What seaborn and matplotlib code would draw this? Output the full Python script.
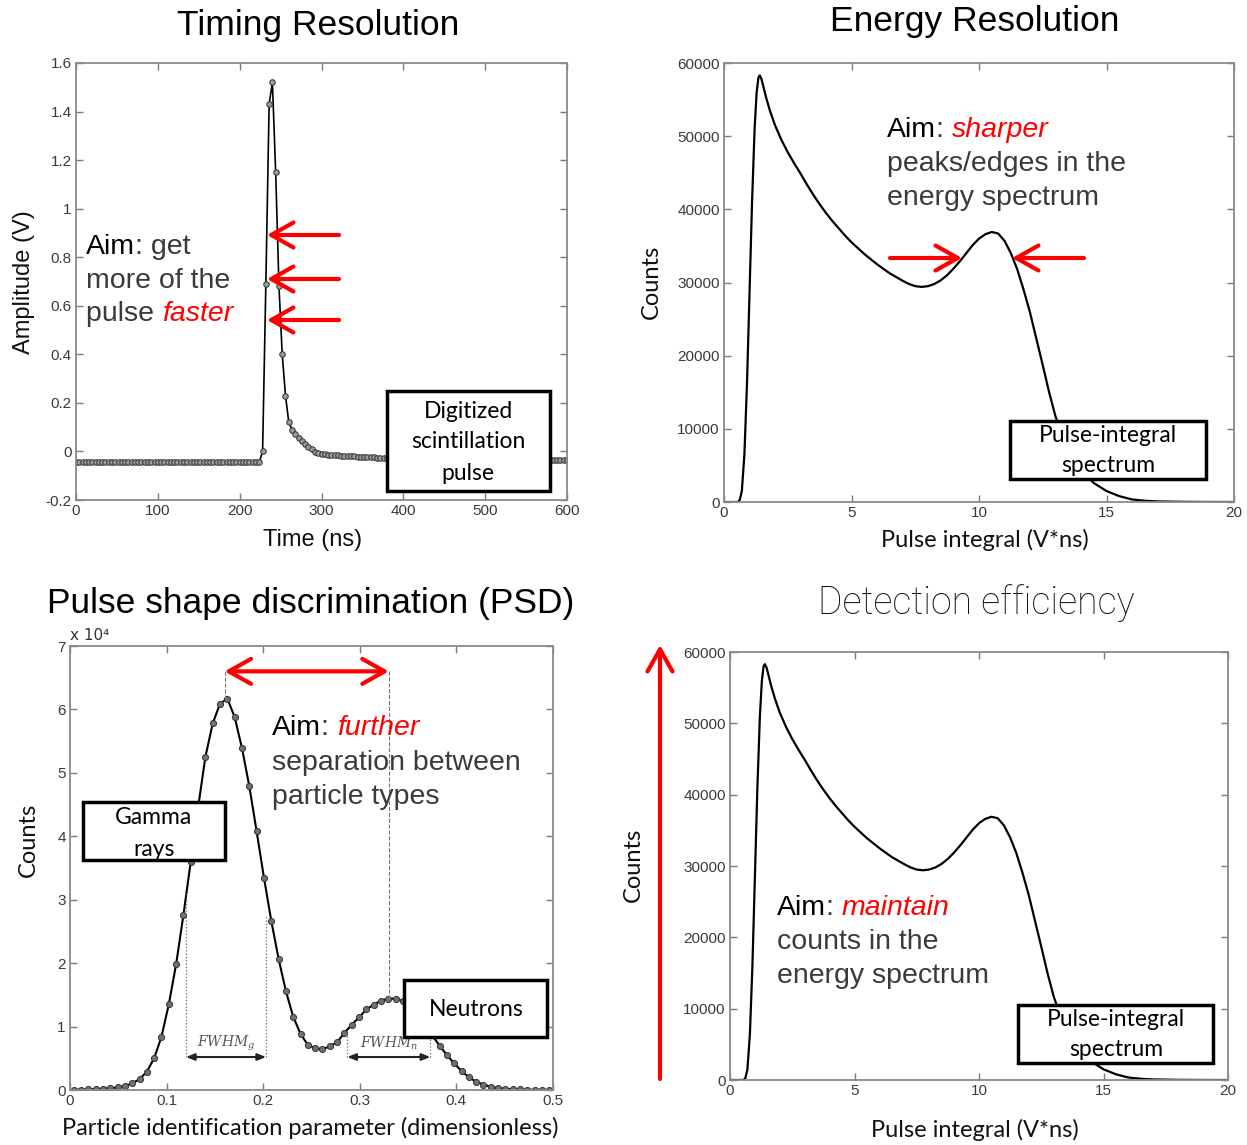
import numpy as np
import pandas as pd
import matplotlib
matplotlib.use("Agg")
import matplotlib.pyplot as plt
import seaborn as sns
from matplotlib.patches import Rectangle
from matplotlib.ticker import FuncFormatter

# ---------------- data ----------------
pulse_time_ns = list(range(0, 604, 4))
pulse_amp_v = ([-0.044] * 57 +
               [0.00, 0.69, 1.43, 1.52, 1.15, 0.68, 0.40, 0.23, 0.12, 0.09, 0.07, 0.055,
                0.045, 0.03, 0.02, 0.01, -0.002, -0.006, -0.010, -0.012, -0.013, -0.014,
                -0.015, -0.016, -0.017, -0.018, -0.019, -0.020, -0.020, -0.021, -0.022,
                -0.022, -0.023] +
               [-0.024, -0.024, -0.025, -0.025, -0.026, -0.026, -0.027, -0.027, -0.028,
                -0.028, -0.028] +
               [-0.030] * 15 + [-0.033] * 15 + [-0.036] * 20)

energy_x = [0, 0.55, 0.62, 0.7, 0.8, 0.9, 1.0, 1.1, 1.2, 1.28,
            1.35, 1.4, 1.47, 1.55, 1.65, 1.8, 2.0, 2.25, 2.5, 2.75,
            3.0, 3.25, 3.5, 3.75, 4.0, 4.25, 4.5, 4.75, 5.0, 5.5,
            6.0, 6.5, 7.0, 7.25, 7.5, 7.75, 8.0, 8.25, 8.5, 8.75,
            9.0, 9.25, 9.5, 9.75, 10.0, 10.25, 10.5, 10.75, 11.0, 11.25,
            11.5, 11.75, 12.0, 12.25, 12.5, 12.75, 13.0, 13.25, 13.5, 13.75,
            14.0, 14.5, 15.0, 15.5, 16.0, 16.5, 17.0, 18.0, 19.0, 20.0]
energy_counts = [0, 0, 300, 1500, 6500, 16000, 28500, 41000, 51000, 56000,
                 58000, 58300, 57800, 56700, 55300, 53500, 51500, 49500, 47800, 46300,
                 44900, 43400, 42000, 40700, 39500, 38400, 37400, 36400, 35500, 33900,
                 32500, 31250, 30250, 29800, 29500, 29400, 29500, 29800, 30300, 31000,
                 31900, 32900, 34000, 35100, 36000, 36600, 36900, 36700, 35700, 34000,
                 31800, 29000, 25900, 22300, 18700, 15000, 11700, 9200, 7200, 5600,
                 4300, 2600, 1500, 800, 350, 170, 80, 25, 5, 0]

psd_n_bins = 66
psd_bin_width = 0.5 / psd_n_bins
psd_x = [(i + 0.5) * psd_bin_width for i in range(psd_n_bins)]
psd_counts_e4 = [0.003, 0.005, 0.01, 0.015, 0.02, 0.03, 0.04, 0.06, 0.105, 0.17, 0.29,
                 0.50, 0.84, 1.35, 1.98, 2.76, 3.6, 4.45, 5.25, 5.78, 6.09, 6.17,
                 5.88, 5.39, 4.79, 4.08, 3.35, 2.67, 2.07, 1.56, 1.155, 0.886, 0.71,
                 0.66, 0.643, 0.686, 0.754, 0.90, 1.03, 1.145, 1.27, 1.345, 1.41, 1.44,
                 1.44, 1.40, 1.30, 1.17, 1.02, 0.86, 0.70, 0.55, 0.42, 0.30, 0.20,
                 0.13, 0.085, 0.05, 0.03, 0.02, 0.012, 0.008, 0.005, 0.004, 0.003, 0.002]
gamma_peak_x, neutron_peak_x = 0.16, 0.33
gamma_peak_y, neutron_peak_y = 6.17, 1.44
fwhm_g_edges = [(0.12, 3.1), (0.203, 2.75)]
fwhm_n_edges = [(0.287, 0.90), (0.373, 0.80)]

timing_xticks = [0, 100, 200, 300, 400, 500, 600]
timing_yticks = [-0.2, 0, 0.2, 0.4, 0.6, 0.8, 1.0, 1.2, 1.4, 1.6]
energy_xticks = [0, 5, 10, 15, 20]
energy_yticks = [0, 10000, 20000, 30000, 40000, 50000, 60000]
psd_xticks = [0, 0.1, 0.2, 0.3, 0.4, 0.5]
psd_yticks = [0, 1, 2, 3, 4, 5, 6, 7]

pulse_df = pd.DataFrame({"t": pulse_time_ns, "a": pulse_amp_v})
energy_df = pd.DataFrame({"e": energy_x, "c": energy_counts})
psd_df = pd.DataFrame({"p": psd_x, "c": psd_counts_e4})

# ---------------- style ----------------
sns.set_style("ticks")
plt.rcParams['font.family'] = ['Liberation Sans', 'DejaVu Sans']
plt.rcParams['mathtext.fontset'] = 'dejavuserif'

W, H = 1247, 1145
fig = plt.figure(figsize=(W / 100, H / 100), dpi=100)

B_TL = (76, 63, 567, 500)
B_TR = (724, 63, 1234, 502)
B_BL = (70, 646, 553, 1090)
B_BR = (730, 652, 1228, 1080)


def add_ax(b):
    l, t, r, bt = b
    return fig.add_axes([l / W, 1 - bt / H, (r - l) / W, (bt - t) / H])


def style(ax, xt, yt):
    ax.set_xticks(xt)
    ax.set_yticks(yt)
    fmt = FuncFormatter(lambda v, p: '%g' % v)
    ax.xaxis.set_major_formatter(fmt)
    ax.yaxis.set_major_formatter(fmt)
    ax.tick_params(direction='in', top=True, right=True, length=5, width=1,
                   color='#7a7a7a', labelsize=11, labelcolor='#3a3a3a', pad=3)
    for s in ax.spines.values():
        s.set_color('#8a8a8a')
        s.set_linewidth(1.3)
        s.set_visible(True)


def place_labels(ax, b, xl, yl, xtext, ytext, family, size):
    l, t, r, bt = b
    ax.set_xlabel(xtext, fontsize=size, family=family, color='#111')
    ax.set_ylabel(ytext, fontsize=size, family=family, color='#111')
    ax.xaxis.set_label_coords((xl[0] - l) / (r - l), (bt - xl[1]) / (bt - t))
    ax.xaxis.label.set_va('center')
    ax.yaxis.set_label_coords((yl[0] - l) / (r - l), (bt - yl[1]) / (bt - t))
    ax.yaxis.label.set_va('center')


# ---- Timing resolution ----
ax1 = add_ax(B_TL)
sns.lineplot(data=pulse_df, x="t", y="a", ax=ax1, color='black', lw=1.2, marker='o',
             markersize=4, markerfacecolor='#9a9a9a', markeredgecolor='#333', markeredgewidth=0.7)
ax1.set_xlim(0, 600)
ax1.set_ylim(-0.2, 1.6)
style(ax1, timing_xticks, timing_yticks)
place_labels(ax1, B_TL, (313, 540), (24, 282), "Time (ns)", "Amplitude (V)",
             ['Liberation Sans', 'DejaVu Sans'], 17)

# ---- Energy resolution ----
ax2 = add_ax(B_TR)
sns.lineplot(data=energy_df, x="e", y="c", ax=ax2, color='black', lw=1.6)
ax2.set_xlim(0, 20)
ax2.set_ylim(0, 60000)
style(ax2, energy_xticks, energy_yticks)
place_labels(ax2, B_TR, (985, 540), (651, 282), "Pulse integral (V*ns)", "Counts",
             ['Lato', 'DejaVu Sans'], 17)

# ---- PSD ----
ax3 = add_ax(B_BL)
sns.lineplot(data=psd_df, x="p", y="c", ax=ax3, color='black', lw=1.5, marker='o',
             markersize=4.4, markerfacecolor='#707070', markeredgecolor='#333', markeredgewidth=0.7)
ax3.set_xlim(0, 0.5)
ax3.set_ylim(0, 7)
style(ax3, psd_xticks, psd_yticks)
place_labels(ax3, B_BL, (310, 1128), (28, 840),
             "Particle identification parameter (dimensionless)", "Counts",
             ['Lato', 'DejaVu Sans'], 17)
ax3.plot([gamma_peak_x, gamma_peak_x], [gamma_peak_y, 6.6], ls='--', color='#777', lw=0.8)
ax3.plot([neutron_peak_x, neutron_peak_x], [neutron_peak_y, 6.6], ls='--', color='#777', lw=0.8)
ax3.annotate('', xy=(gamma_peak_x, 6.6), xytext=(neutron_peak_x, 6.6),
             arrowprops=dict(arrowstyle='<->,head_length=0.8,head_width=0.45', color='red',
                             lw=3, mutation_scale=20, shrinkA=0, shrinkB=0))
for edges, lab in [(fwhm_g_edges, r'$FWHM_g$'), (fwhm_n_edges, r'$FWHM_n$')]:
    for ex, ey in edges:
        ax3.plot([ex, ex], [0.52, ey], ls=':', color='#666', lw=0.9)
    ax3.annotate('', xy=(edges[0][0], 0.52), xytext=(edges[1][0], 0.52),
                 arrowprops=dict(arrowstyle='<|-|>,head_length=0.5,head_width=0.2',
                                 color='#222', lw=1.5, mutation_scale=10, shrinkA=0, shrinkB=0))
    ax3.text((edges[0][0] + edges[1][0]) / 2, 0.74, lab, ha='center', va='center',
             fontsize=10, color='#555')
fig.text(70 / W, 1 - 636 / H, 'x 10⁴', fontsize=11, family='DejaVu Sans', color='#333',
         ha='left', va='center')

# ---- Detection efficiency ----
ax4 = add_ax(B_BR)
sns.lineplot(data=energy_df, x="e", y="c", ax=ax4, color='black', lw=1.6)
ax4.set_xlim(0, 20)
ax4.set_ylim(0, 60000)
style(ax4, energy_xticks, energy_yticks)
place_labels(ax4, B_BR, (975, 1130), (633, 865), "Pulse integral (V*ns)", "Counts",
             ['Lato', 'DejaVu Sans'], 17)

# ---------------- overlay (pixel coordinates) ----------------
ov = fig.add_axes([0, 0, 1, 1], zorder=10)
ov.set_xlim(0, W)
ov.set_ylim(H, 0)
ov.axis('off')
ov.patch.set_alpha(0)

TF = ['Liberation Sans', 'DejaVu Sans']
ov.text(318, 25, "Timing Resolution", fontsize=25.5, family=TF,
        ha='center', va='center', color='black')
ov.text(975, 22, "Energy Resolution", fontsize=25.5, family=TF,
        ha='center', va='center', color='black')
ov.text(311, 603, "Pulse shape discrimination (PSD)", fontsize=25.5, family=TF,
        ha='center', va='center', color='black')
ov.text(976, 603, "Detection efficiency", fontsize=27, family=['Roboto', 'DejaVu Sans'],
        weight='light', ha='center', va='center', color='#111')

AF = ['Liberation Sans', 'DejaVu Sans']
ASZ = 20.5
aim = dict(color='black', family=AF)
grey = dict(color='#3a3a3a', family=AF)
red = dict(color='#ff0000', family=AF, style='italic')


def rich(x, y, parts):
    s0, kw0 = parts[0]
    t = ov.text(x, y, s0, fontsize=ASZ, ha='left', va='center', **kw0)
    for s, kw in parts[1:]:
        t = ov.annotate(s, xy=(1, 0.5), xycoords=t, fontsize=ASZ, ha='left',
                        va='center', **kw)


rich(86, 247, [("Aim", aim), (": get", grey)])
rich(86, 281, [("more of the", grey)])
rich(86, 314, [("pulse ", grey), ("faster", red)])

rich(887, 130, [("Aim", aim), (": ", grey), ("sharper", red)])
rich(887, 164, [("peaks/edges in the", grey)])
rich(887, 198, [("energy spectrum", grey)])

rich(272, 728, [("Aim", aim), (": ", grey), ("further", red)])
rich(272, 763, [("separation between", grey)])
rich(272, 797, [("particle types", grey)])

rich(777, 908, [("Aim", aim), (": ", grey), ("maintain", red)])
rich(777, 942, [("counts in the", grey)])
rich(777, 976, [("energy spectrum", grey)])

arrow_kw = dict(arrowstyle='->,head_length=0.8,head_width=0.45', color='red', lw=3,
                mutation_scale=20, shrinkA=0, shrinkB=0)
for yy in (235, 279, 320):
    ov.annotate('', xy=(267, yy), xytext=(339, yy), arrowprops=arrow_kw)
ov.annotate('', xy=(962, 258), xytext=(890, 258), arrowprops=arrow_kw)
ov.annotate('', xy=(1012, 258), xytext=(1084, 258), arrowprops=arrow_kw)
ov.annotate('', xy=(660, 645), xytext=(660, 1079), arrowprops=arrow_kw)

BF = ['Lato', 'DejaVu Sans']


def box(l, t, r, b, lines, centers):
    ov.add_patch(Rectangle((l, t), r - l, b - t, facecolor='white', edgecolor='black', lw=2.5))
    for s, (cx, cy) in zip(lines, centers):
        ov.text(cx, cy, s, fontsize=16.5, family=BF, ha='center', va='center', color='black')


box(387, 391, 550, 491, ["Digitized", "scintillation", "pulse"],
    [(468, 411), (468, 442), (468, 473)])
box(1010, 421, 1206, 479, ["Pulse-integral", "spectrum"], [(1108, 436), (1108, 466)])
box(83, 802, 225, 860, ["Gamma", "rays"], [(154, 818), (154, 849)])
box(404, 980, 547, 1037, ["Neutrons"], [(476, 1010)])
box(1018, 1005, 1213, 1063, ["Pulse-integral", "spectrum"], [(1116, 1019), (1116, 1050)])

fig.savefig("out.png", dpi=100)
